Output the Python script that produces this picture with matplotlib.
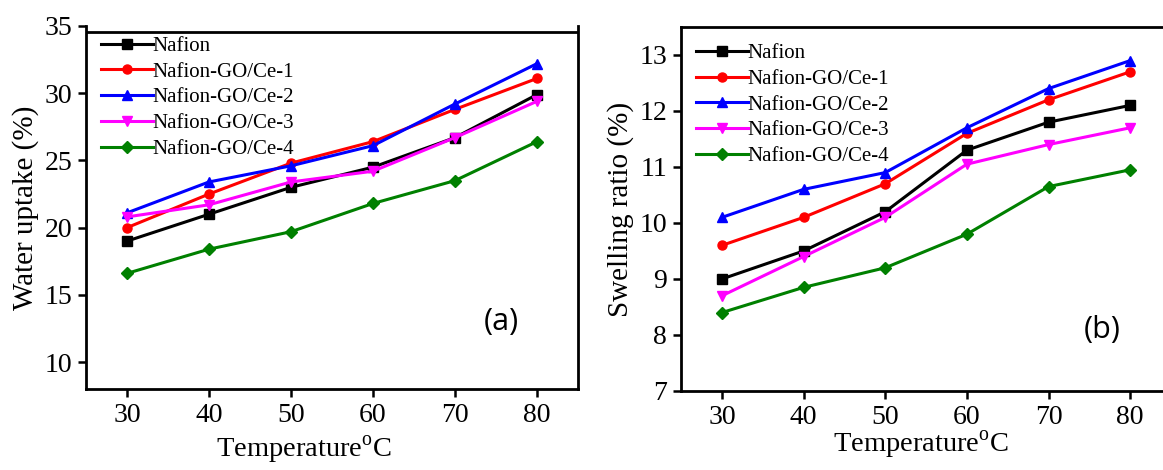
import matplotlib
matplotlib.use("Agg")
from matplotlib import pyplot as plt

temps = [30, 40, 50, 60, 70, 80]
labels = ['Nafion', 'Nafion-GO/Ce-1', 'Nafion-GO/Ce-2', 'Nafion-GO/Ce-3', 'Nafion-GO/Ce-4']

# water uptake (%)
wu_nafion = [19.0, 21.0, 23.0, 24.5, 26.7, 29.9]
wu_ce1 = [20.0, 22.5, 24.8, 26.4, 28.8, 31.1]
wu_ce2 = [21.1, 23.4, 24.6, 26.1, 29.2, 32.2]
wu_ce3 = [20.8, 21.7, 23.4, 24.2, 26.7, 29.4]
wu_ce4 = [16.6, 18.4, 19.7, 21.8, 23.5, 26.4]

# swelling ratio (%)
sr_nafion = [9.0, 9.5, 10.2, 11.3, 11.8, 12.1]
sr_ce1 = [9.6, 10.1, 10.7, 11.6, 12.2, 12.7]
sr_ce2 = [10.1, 10.6, 10.9, 11.7, 12.4, 12.9]
sr_ce3 = [8.7, 9.4, 10.1, 11.05, 11.4, 11.7]
sr_ce4 = [8.4, 8.85, 9.2, 9.8, 10.65, 10.95]

colors = ['black', 'red', 'blue', 'magenta', 'green']
markers = ['s', 'o', '^', 'v', 'D']
msizes = [6.5, 6.5, 7.5, 7.5, 6.5]

plt.rcParams['font.family'] = 'Liberation Serif'

fig = plt.figure(figsize=(11.63, 4.70), dpi=100)
ax1 = fig.add_axes([0.0739, 0.1723, 0.4231, 0.7724])
ax2 = fig.add_axes([0.5856, 0.1681, 0.4213, 0.7745])


def draw(ax, series, ylabel, ylim, yticks, tag, tagpos, legy, xlabpos):
    for vals, c, m, ms, lab in zip(series, colors, markers, msizes, labels):
        ax.plot(temps, vals, color=c, marker=m, markersize=ms, lw=2.2, label=lab,
                clip_on=False, zorder=3)
    ax.set_xlim(25, 85)
    ax.set_ylim(*ylim)
    ax.set_xticks(temps)
    ax.set_yticks(yticks)
    ax.tick_params(direction='out', length=6, width=1.8, labelsize=20, pad=4)
    for s in ax.spines.values():
        s.set_linewidth(2)
    ax.set_ylabel(ylabel, fontsize=21, labelpad=4)
    ax.set_xlabel(r'Temperature$^{\mathregular{o}}$C', fontsize=20.5, va='center')
    ax.xaxis.set_label_coords(*xlabpos)
    ax.legend(loc='upper left', frameon=False, fontsize=15, handlelength=2.5,
              handletextpad=0.0, labelspacing=0.3, borderaxespad=0.3,
              bbox_to_anchor=(0.0, legy))
    ax.text(tagpos[0], tagpos[1], tag, transform=ax.transAxes, fontsize=22,
            family='Open Sans', ha='center', va='center')


draw(ax1, [wu_nafion, wu_ce1, wu_ce2, wu_ce3, wu_ce4], 'Water uptake (%)',
     (8, 35), [10, 15, 20, 25, 30, 35], '(a)', (0.845, 0.185), 1.012,
     (0.443, -0.168))
draw(ax2, [sr_nafion, sr_ce1, sr_ce2, sr_ce3, sr_ce4], 'Swelling ratio (%)',
     (7, 13.5), [7, 8, 9, 10, 11, 12, 13], '(b)', (0.859, 0.168), 0.995,
     (0.49, -0.148))

# top border of panel (a) sits a little below the 35 tick
ax1.spines['top'].set_visible(False)
ax1.axhline(34.55, color='black', lw=2, zorder=1)

fig.savefig('out.png', dpi=100)
